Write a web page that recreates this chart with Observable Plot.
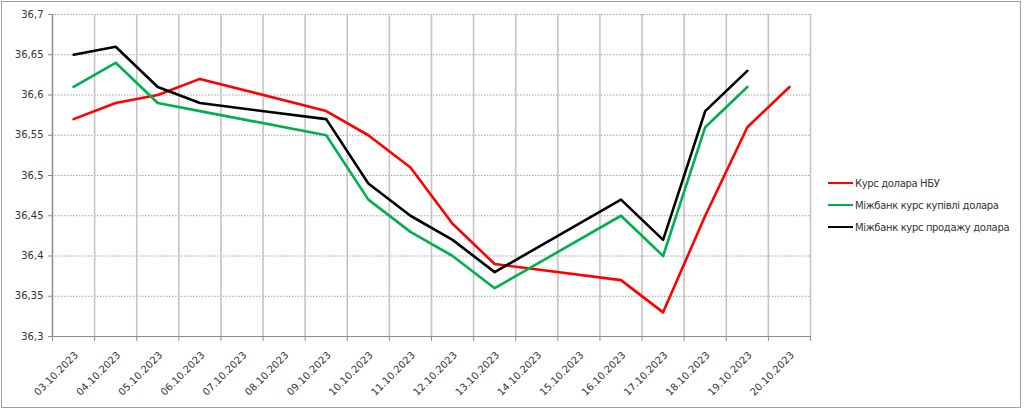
<!DOCTYPE html>
<html>
<head>
<meta charset="utf-8">
<script src="https://cdn.jsdelivr.net/npm/d3@7"></script>
<script src="https://cdn.jsdelivr.net/npm/@observablehq/plot@0.6"></script>
<style>
  html, body { margin: 0; padding: 0; background: #fff; }
  #wrap { position: relative; width: 1024px; height: 411px; overflow: hidden; font-family: "DejaVu Sans", sans-serif; }
  #frame { position: absolute; left: 1px; top: 1px; width: 1020px; height: 407px; border: 1px solid #a0a0a0; box-sizing: border-box; pointer-events: none; }
  #legend { position: absolute; left: 828px; top: 176px; font-size: 10px; color: #333; letter-spacing: -0.35px; }
  .item { position: absolute; left: 0; white-space: nowrap; height: 16px; line-height: 16px; }
  .sw { display: inline-block; width: 25px; height: 2px; vertical-align: middle; margin-right: 2px; position: relative; top: -1px; }
</style>
</head>
<body>
<div id="wrap">
  <div id="chart"></div>
  <div id="legend"></div>
  <div id="frame"></div>
</div>
<script>
const dates = ["03.10.2023","04.10.2023","05.10.2023","06.10.2023","07.10.2023","08.10.2023","09.10.2023","10.10.2023","11.10.2023","12.10.2023","13.10.2023","14.10.2023","15.10.2023","16.10.2023","17.10.2023","18.10.2023","19.10.2023","20.10.2023"];
const seriesNames = ["Курс долара НБУ", "Міжбанк курс купівлі долара", "Міжбанк курс продажу долара"];
const seriesColors = ["#ff0000", "#00b050", "#000000"];
const nbu  = [36.57, 36.59, 36.60, 36.62, null, null, 36.58, 36.55, 36.51, 36.44, 36.39, null, null, 36.37, 36.33, 36.45, 36.56, 36.61];
const buy  = [36.61, 36.64, 36.59, 36.58, null, null, 36.55, 36.47, 36.43, 36.40, 36.36, null, null, 36.45, 36.40, 36.56, 36.61, null];
const sell = [36.65, 36.66, 36.61, 36.59, null, null, 36.57, 36.49, 36.45, 36.42, 36.38, null, null, 36.47, 36.42, 36.58, 36.63, null];
const yTicks = [36.3, 36.35, 36.4, 36.45, 36.5, 36.55, 36.6, 36.65, 36.7];

const allSeries = [nbu, buy, sell];
const rows = [];
allSeries.forEach((arr, s) => arr.forEach((v, i) => { if (v != null) rows.push({i, v, s: seriesNames[s]}); }));
const idx = dates.map((d, i) => i);
const bounds = dates.map((d, i) => i - 0.5).concat([dates.length - 0.5]);
const fmt = v => String(+v.toFixed(2)).replace(".", ",");

const chart = Plot.plot({
  width: 1024,
  height: 411,
  marginLeft: 52,
  marginRight: 214,
  marginTop: 14,
  marginBottom: 75,
  style: {fontFamily: "DejaVu Sans, sans-serif", fontSize: "10px", color: "#333", background: "transparent"},
  x: {type: "linear", domain: [-0.5, dates.length - 0.5]},
  y: {domain: [36.3, 36.7]},
  color: {domain: seriesNames, range: seriesColors},
  marks: [
    Plot.ruleY(yTicks, {stroke: "#a0a0a0", strokeDasharray: "1.5,1.5", strokeWidth: 1}),
    Plot.ruleX(bounds, {y1: 36.3, y2: 36.7, stroke: "#c4c4c4", strokeWidth: 1.6}),
    Plot.ruleX([bounds[0]], {y1: 36.3, y2: 36.7, stroke: "#8c8c8c", strokeWidth: 1.2}),
    Plot.ruleY([36.3], {stroke: "#8c8c8c", strokeWidth: 1.2}),
    Plot.axisY({ticks: yTicks, tickFormat: fmt, tickSize: 4, tickPadding: 5, stroke: "#8c8c8c", label: null, fontSize: 10}),
    Plot.axisX({ticks: bounds, tickFormat: () => "", tickSize: 5, stroke: "#8c8c8c", label: null}),
    Plot.text(idx, {x: d => d, y: 36.3, text: d => dates[d], rotate: -45, textAnchor: "end", dx: 3, dy: 17, fill: "#333", fontSize: 10}),
    Plot.line(rows, {x: "i", y: "v", z: "s", stroke: "s", strokeWidth: 2.6, strokeLinejoin: "round"})
  ]
});
document.getElementById("chart").appendChild(chart);

const leg = document.getElementById("legend");
seriesNames.forEach((n, k) => {
  const it = document.createElement("div");
  it.className = "item";
  it.style.top = (k * 22) + "px";
  it.innerHTML = `<span class="sw" style="background:${seriesColors[k]}"></span>${n}`;
  leg.appendChild(it);
});
</script>
</body>
</html>
